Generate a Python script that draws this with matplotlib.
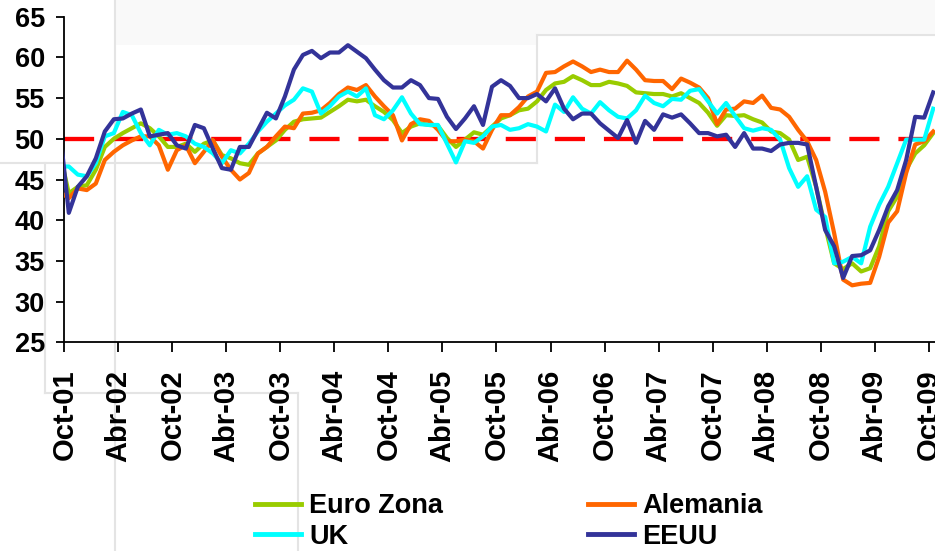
import numpy as np
import matplotlib
matplotlib.use("Agg")
import matplotlib.pyplot as plt
from matplotlib.lines import Line2D
from matplotlib.patches import Rectangle
import matplotlib.transforms as mtransforms

plt.rcParams['font.family'] = ['Liberation Sans', 'DejaVu Sans']

# Monthly values, Sep-01 (partly visible at the left edge) ... Oct-09
euro_zona = [48.3, 43.3, 44.1, 44.3, 46.2, 49.0, 50.0, 50.7, 51.3, 51.9, 51.3, 50.3, 49.0,
             49.0, 49.4, 48.4, 49.4, 49.8, 48.0, 47.6, 47.0, 46.8, 48.2, 49.0, 49.8,
             51.1, 52.1, 52.4, 52.5, 52.6, 53.3, 54.0, 54.8, 54.6, 54.8, 54.0, 53.3,
             52.3, 50.7, 51.5, 51.9, 51.7, 51.6, 50.1, 49.0, 49.9, 50.8, 50.5, 51.5,
             52.5, 52.9, 53.5, 53.7, 54.6, 56.0, 56.8, 57.0, 57.7, 57.2, 56.6, 56.6,
             57.0, 56.8, 56.5, 55.7, 55.6, 55.5, 55.5, 55.2, 55.6, 55.0, 54.4, 53.2,
             51.6, 52.9, 52.8, 52.9, 52.4, 52.0, 50.9, 50.7, 49.9, 47.4, 47.8, 44.1,
             39.2, 34.7, 34.0, 34.7, 33.7, 34.1, 36.8, 41.1, 42.9, 46.2, 48.2, 49.2, 50.7]
alemania = [43.5, 42.7, 43.9, 43.7, 44.5, 47.4, 48.4, 49.2, 49.8, 50.3, 50.3, 49.2, 46.2,
            48.6, 49.2, 47.0, 48.4, 49.8, 47.8, 46.2, 45.0, 45.8, 48.2, 49.0, 50.3,
            51.5, 51.3, 53.1, 53.2, 53.5, 54.4, 55.5, 56.3, 56.0, 56.6, 55.2, 54.0,
            52.9, 49.8, 51.8, 52.4, 52.2, 51.1, 49.7, 49.7, 49.9, 49.7, 48.8, 51.1,
            52.9, 52.9, 53.9, 55.2, 55.8, 58.1, 58.2, 58.9, 59.5, 58.9, 58.2, 58.5,
            58.2, 58.2, 59.6, 58.5, 57.2, 57.1, 57.1, 56.1, 57.4, 56.9, 56.3, 55.0,
            51.8, 53.6, 53.7, 54.6, 54.4, 55.3, 53.8, 53.6, 52.7, 51.1, 49.7, 47.4,
            43.5, 38.4, 32.7, 32.0, 32.2, 32.3, 35.5, 39.7, 41.1, 45.8, 49.3, 49.7, 50.9]
uk = [46.6, 46.6, 45.6, 45.4, 47.0, 50.3, 50.7, 53.3, 52.9, 50.7, 49.2, 51.1, 50.5,
      50.7, 50.3, 49.4, 49.0, 48.2, 47.0, 48.6, 48.2, 49.4, 50.9, 52.1, 53.1,
      54.1, 54.8, 56.2, 55.8, 53.1, 54.0, 55.2, 55.8, 55.2, 56.2, 52.9, 52.4,
      53.5, 55.1, 53.1, 51.8, 51.7, 51.7, 49.4, 47.1, 49.7, 49.5, 50.3, 51.5,
      51.7, 51.1, 51.3, 51.8, 51.5, 50.9, 54.2, 53.3, 55.1, 53.7, 53.1, 54.5,
      53.5, 52.7, 52.5, 53.5, 55.3, 54.4, 54.0, 54.9, 54.8, 55.9, 56.1, 54.6,
      53.1, 54.4, 52.8, 51.3, 51.0, 51.3, 51.1, 49.9, 46.4, 44.1, 45.4, 41.3,
      40.4, 34.7, 34.9, 35.5, 34.7, 39.2, 41.9, 44.1, 47.0, 49.9, 49.9, 49.9, 53.7]
eeuu = [51.2, 40.9, 44.1, 45.4, 47.6, 50.9, 52.4, 52.5, 53.1, 53.6, 50.3, 50.5, 50.7,
        49.2, 48.8, 51.7, 51.3, 48.8, 46.4, 46.2, 49.0, 49.0, 51.1, 53.2, 52.5,
        55.2, 58.5, 60.3, 60.8, 59.9, 60.6, 60.6, 61.5, 60.7, 59.9, 58.5, 57.2,
        56.3, 56.3, 57.2, 56.6, 55.0, 54.9, 52.7, 51.2, 52.5, 54.0, 51.7, 56.4,
        57.2, 56.5, 55.0, 55.0, 55.5, 54.6, 56.2, 53.7, 52.4, 53.1, 53.1, 51.9,
        51.0, 50.1, 52.3, 49.5, 52.2, 51.1, 53.0, 52.6, 53.0, 51.9, 50.7, 50.7,
        50.3, 50.5, 49.0, 50.7, 48.8, 48.8, 48.5, 49.3, 49.5, 49.5, 49.3, 44.1,
        38.8, 36.8, 32.9, 35.6, 35.7, 36.3, 38.8, 41.7, 43.7, 47.4, 52.7, 52.6, 55.7]
threshold = 50
tick_labels = ["Oct-01", "Abr-02", "Oct-02", "Abr-03", "Oct-03", "Abr-04", "Oct-04",
               "Abr-05", "Oct-05", "Abr-06", "Oct-06", "Abr-07", "Oct-07", "Abr-08",
               "Oct-08", "Abr-09", "Oct-09"]

W, H = 935, 551
fig = plt.figure(figsize=(W / 100, H / 100), dpi=100)
fig.patch.set_facecolor('white')

# faint screenshot artefacts in the background
art = '#e4e4e4'
fig.add_artist(Rectangle((115 / W, 1 - 45 / H), (537 - 115) / W, 45 / H,
                         transform=fig.transFigure, facecolor='#f9f9f9', edgecolor='none', zorder=-3))
fig.add_artist(Rectangle((537 / W, 1 - 34 / H), (W - 537) / W, 34 / H,
                         transform=fig.transFigure, facecolor='#f9f9f9', edgecolor='none', zorder=-3))
for (x0, y0, x1, y1) in [(115, 0, 115, 551), (0, 163, 537, 163), (537, 35, 537, 163),
                         (537, 35, 935, 35), (45, 163, 45, 393), (45, 393, 298, 393),
                         (298, 393, 298, 551)]:
    fig.add_artist(Line2D([x0 / W, x1 / W], [1 - y0 / H, 1 - y1 / H], transform=fig.transFigure,
                          color=art, lw=1.5, zorder=-2))

ax = fig.add_axes([64.3 / W, 1 - 342.3 / H, 1 - 64.3 / W, (342.3 - 16.7) / H])
ax.patch.set_alpha(0)

x = np.arange(len(euro_zona)) - 1

ax.axhline(threshold, color='#FF0000', lw=3.1, dashes=(7.0, 4.4), zorder=1)
ax.plot(x, euro_zona, color='#99CC00', lw=3, label='Euro Zona', zorder=2)
ax.plot(x, alemania, color='#FF6600', lw=3, label='Alemania', zorder=3)
ax.plot(x, uk, color='#00FFFF', lw=3, label='UK', zorder=4)
ax.plot(x, eeuu, color='#333399', lw=3, label='EEUU', zorder=5)

ax.set_xlim(-0.5, 96.2)
ax.set_ylim(25, 65)
ax.set_yticks(np.arange(25, 66, 5))
ax.set_xticks(np.arange(len(tick_labels)) * 6 - 0.5)
ax.set_xticklabels(tick_labels, rotation=90, fontsize=21, fontweight='bold')
for lab in ax.get_yticklabels():
    lab.set_fontsize(19.5)
    lab.set_fontweight('bold')
offset = mtransforms.ScaledTranslation(3 / 100, 0, fig.dpi_scale_trans)
for lab in ax.get_xticklabels():
    lab.set_transform(lab.get_transform() + offset)

for s in ['top', 'right']:
    ax.spines[s].set_visible(False)
for s in ['left', 'bottom']:
    ax.spines[s].set_linewidth(1.3)
    ax.spines[s].set_color('black')
ax.tick_params(axis='y', length=6, width=1.3, pad=8)
ax.tick_params(axis='x', length=7.5, width=1.3, pad=12)

handles, labels = ax.get_legend_handles_labels()
order = [0, 2, 1, 3]
leg = fig.legend([handles[i] for i in order], [labels[i] for i in order],
                 loc='upper left', bbox_to_anchor=(255 / W, 1 - 493 / H), ncol=2,
                 frameon=False, prop={'weight': 'bold', 'size': 19.5},
                 handlelength=1.7, handletextpad=0.3, columnspacing=5.35,
                 labelspacing=0.18, borderpad=0, borderaxespad=0)
for lh in leg.get_lines():
    lh.set_linewidth(3.5)

fig.savefig('out.png', dpi=100)
